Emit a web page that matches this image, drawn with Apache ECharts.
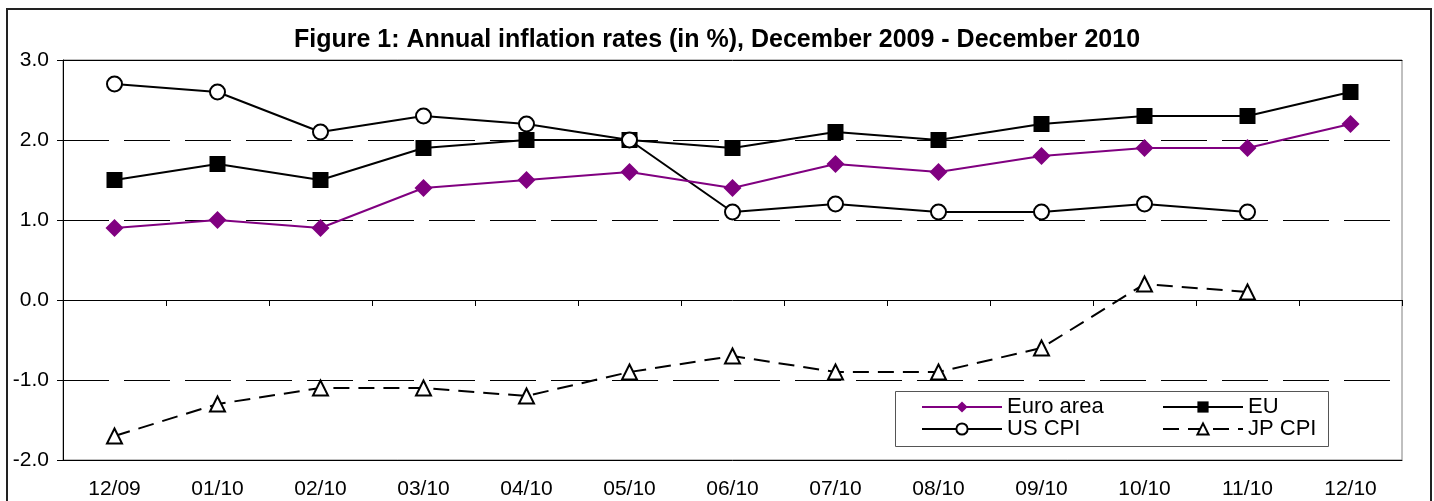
<!DOCTYPE html>
<html lang="en">
<head>
    <meta charset="UTF-8">
    <title>Annual inflation rates</title>
    <script src="https://cdn.jsdelivr.net/npm/echarts@6/dist/echarts.min.js"></script>
    <style>
        html, body { margin: 0; padding: 0; background: #fff; }
    </style>
</head>
<body>
<div id="main" style="width:1434px;height:501px;"></div>
<script type="text/javascript">
    // data
    var months = ['12/09', '01/10', '02/10', '03/10', '04/10', '05/10', '06/10', '07/10', '08/10', '09/10', '10/10', '11/10', '12/10'];
    var euroArea = [0.9, 1.0, 0.9, 1.4, 1.5, 1.6, 1.4, 1.7, 1.6, 1.8, 1.9, 1.9, 2.2];
    var eu = [1.5, 1.7, 1.5, 1.9, 2.0, 2.0, 1.9, 2.1, 2.0, 2.2, 2.3, 2.3, 2.6];
    var usCpi = [2.7, 2.6, 2.1, 2.3, 2.2, 2.0, 1.1, 1.2, 1.1, 1.1, 1.2, 1.1, null];
    var jpCpi = [-1.7, -1.3, -1.1, -1.1, -1.2, -0.9, -0.7, -0.9, -0.9, -0.6, 0.2, 0.1, null];

    var font = 'Liberation Sans, Arial, sans-serif';
    var myChart = echarts.init(document.getElementById('main'));

    var option = {
        backgroundColor: '#fff',
        animation: false,
        title: {
            text: 'Figure 1: Annual inflation rates (in %), December 2009 - December 2010',
            left: 'center',
            top: 28,
            padding: 0,
            textStyle: { fontFamily: font, fontSize: 25, fontWeight: 'bold', color: '#000' }
        },
        grid: {
            left: 63, right: 32, top: 60, bottom: 41,
            show: true,
            borderColor: '#808080',
            borderWidth: 1
        },
        legend: [
            {
                data: ['Euro area', 'US CPI'],
                orient: 'vertical',
                left: 921, top: 396,
                padding: 0, itemGap: 0,
                itemWidth: 80, itemHeight: 14,
                z: 10,
                textStyle: { fontFamily: font, fontSize: 22, lineHeight: 22, color: '#000' }
            },
            {
                data: ['EU', 'JP CPI'],
                orient: 'vertical',
                left: 1162, top: 396,
                padding: 0, itemGap: 0,
                itemWidth: 80, itemHeight: 14,
                z: 10,
                textStyle: { fontFamily: font, fontSize: 22, lineHeight: 22, color: '#000' }
            }
        ],
        graphic: [
            {
                type: 'rect', silent: true, z: -1,
                shape: { x: 7, y: 9, width: 1424, height: 520 },
                style: { fill: null, stroke: '#222', lineWidth: 2 }
            },
            {
                type: 'rect', silent: true, z: 5,
                shape: { x: 895.5, y: 391.5, width: 433, height: 55 },
                style: { fill: '#fff', stroke: '#555', lineWidth: 1 }
            }
        ],
        xAxis: [
            {
                type: 'category',
                data: months,
                position: 'bottom',
                axisLine: { onZero: false, lineStyle: { color: '#000', width: 1 } },
                axisTick: { show: false },
                axisLabel: { fontFamily: font, fontSize: 21, color: '#000', margin: 19 }
            },
            {
                type: 'category',
                data: months,
                position: 'bottom',
                axisLine: { onZero: true, lineStyle: { color: '#000', width: 1 } },
                axisTick: { show: true, inside: false, length: 6, lineStyle: { color: '#000' } },
                axisLabel: { show: false }
            },
            {
                type: 'category',
                data: months,
                position: 'top',
                axisLine: { onZero: false, lineStyle: { color: '#000', width: 1 } },
                axisTick: { show: false },
                axisLabel: { show: false }
            }
        ],
        yAxis: {
            type: 'value',
            min: -2, max: 3, interval: 1,
            axisLine: { show: true, lineStyle: { color: '#000', width: 1 } },
            axisTick: { show: true, length: 6, lineStyle: { color: '#000' } },
            axisLabel: {
                fontFamily: font, fontSize: 21, color: '#000', margin: 14,
                formatter: function (v) { return v.toFixed(1); }
            },
            splitLine: { show: true, lineStyle: { color: '#000', width: 1, type: [46, 15] } }
        },
        series: [
            {
                name: 'Euro area',
                type: 'line',
                data: euroArea,
                symbol: 'diamond',
                symbolSize: 18,
                itemStyle: { color: '#800080' },
                lineStyle: { color: '#800080', width: 2 },
                z: 4
            },
            {
                name: 'EU',
                type: 'line',
                data: eu,
                symbol: 'rect',
                symbolSize: 16,
                itemStyle: { color: '#000' },
                lineStyle: { color: '#000', width: 2 },
                z: 3
            },
            {
                name: 'US CPI',
                type: 'line',
                data: usCpi,
                symbol: 'circle',
                symbolSize: 15,
                itemStyle: { color: '#fff', borderColor: '#000', borderWidth: 2 },
                lineStyle: { color: '#000', width: 2 },
                z: 3
            },
            {
                name: 'JP CPI',
                type: 'line',
                data: jpCpi,
                symbol: 'triangle',
                symbolSize: 15,
                itemStyle: { color: '#fff', borderColor: '#000', borderWidth: 2 },
                lineStyle: { color: '#000', width: 2, type: [16, 9] },
                z: 3
            }
        ]
    };

    myChart.setOption(option);
</script>
</body>
</html>
